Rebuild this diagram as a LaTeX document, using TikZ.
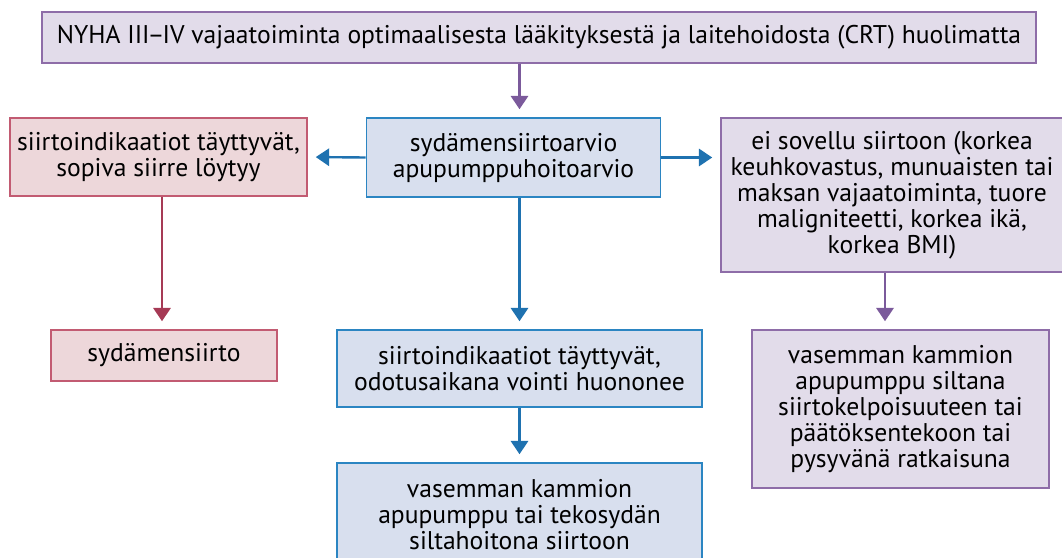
\documentclass[tikz,border=0pt]{standalone}
\usepackage{fontspec}
\setmainfont{PT Sans}
\usetikzlibrary{arrows.meta}

\definecolor{purplefill}{HTML}{E2DCEA}
\definecolor{purpleline}{HTML}{8E6DA8}
\definecolor{purplearr}{HTML}{7B5A9B}
\definecolor{redfill}{HTML}{EDD7DA}
\definecolor{redline}{HTML}{C25B72}
\definecolor{redarr}{HTML}{A63A55}
\definecolor{bluefill}{HTML}{D8DFEE}
\definecolor{blueline}{HTML}{2B85C2}
\definecolor{bluearr}{HTML}{1F72B0}

\tikzset{
  every node/.style={font=\fontsize{19.2}{19.5}\selectfont, align=center, inner sep=0pt},
  boxsize/.style 2 args={minimum width=#1*0.75pt, minimum height=#2*0.75pt},
  purplebox/.style={draw=purpleline, fill=purplefill, line width=1.2pt},
  redbox/.style={draw=redline, fill=redfill, line width=1.2pt},
  bluebox/.style={draw=blueline, fill=bluefill, line width=1.2pt},
  arr/.style={line width=1.8pt, -{Triangle[width=13pt,length=10pt]}, shorten >=6pt},
}

\begin{document}
\begin{tikzpicture}[x=0.75pt, y=-0.75pt]
        % Page frame
        \useasboundingbox (0,0) rectangle (1062,557);
        \clip (0,0) rectangle (1062,557);

        % Boxes
        \node[purplebox, boxsize={994}{51}] (start) at (539,37.5)
          {NYHA III\kern-1.5pt–\kern-1.5pt IV vajaatoiminta optimaalisesta lääkityksestä ja laitehoidosta (CRT) huolimatta};
        \node[bluebox, boxsize={294}{79}] (arvio) at (513.5,157.5)
          {sydämensiirtoarvio\\apupumppuhoitoarvio};
        \node[redbox, boxsize={297}{78}] (sopiva) at (158.5,157)
          {siirtoindikaatiot täyttyvät,\\sopiva siirre löytyy};
        \node[purplebox, boxsize={342}{154}] (eisovellu) at (892,195)
          {ei sovellu siirtoon (korkea\\keuhkovastus, munuaisten tai\\maksan vajaatoiminta, tuore\\maligniteetti, korkea ikä,\\korkea BMI)};
        \node[redbox, boxsize={226}{51}] (siirto) at (164,355.5) {sydämensiirto};
        \node[bluebox, boxsize={365}{77}] (huononee) at (519.5,368.5)
          {siirtoindikaatiot täyttyvät,\\odotusaikana vointi huononee};
        \node[bluebox, boxsize={365}{104}] (tekosydan) at (519.5,515)
          {vasemman kammion\\apupumppu tai tekosydän\\siltahoitona siirtoon};
        \node[purplebox, boxsize={297}{158}] (silta) at (900.5,409)
          {vasemman kammion\\apupumppu siltana\\siirtokelpoisuuteen tai\\päätöksentekoon tai\\pysyvänä ratkaisuna};

        % Arrows
        \draw[arr, purplearr] (start.south -| huononee.north) -- (arvio.north -| huononee.north);
        \draw[arr, bluearr] (arvio.west) -- (sopiva.east);
        \draw[arr, bluearr] (arvio.east) -- (eisovellu.west |- arvio.east);
        \draw[arr, bluearr] (arvio.south -| huononee.north) -- (huononee.north);
        \draw[arr, bluearr] (huononee.south) -- (tekosydan.north);
        \draw[arr, redarr] (sopiva.south -| 162,0) -- (siirto.north -| 162,0);
        \draw[arr, purplearr] (eisovellu.south -| 885,0) -- (silta.north -| 885,0);
\end{tikzpicture}
\end{document}
